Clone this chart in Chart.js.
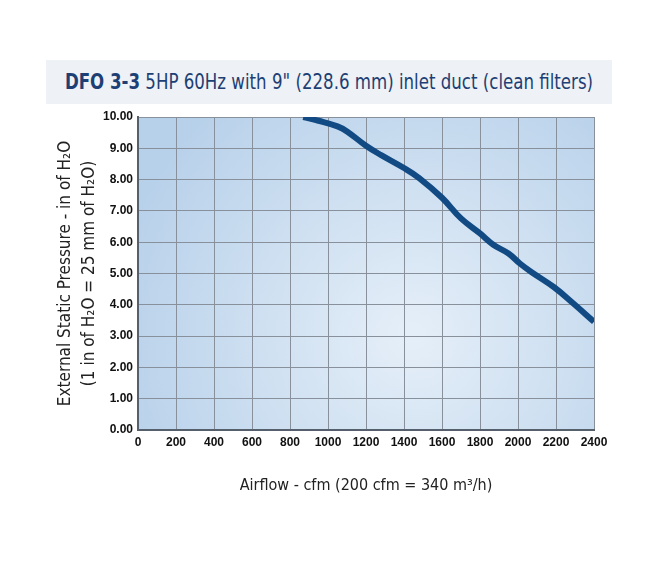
<!DOCTYPE html>
<html>
<head>
<meta charset="utf-8">
<script src="https://cdn.jsdelivr.net/npm/chart.js@4.4.1/dist/chart.umd.min.js"></script>
<style>
  html, body { margin: 0; padding: 0; background: #fff; }
  #wrap { position: relative; width: 650px; height: 562px; }
  #banner {
    position: absolute; left: 46px; top: 60px; width: 566px; height: 44px;
    background: #eef1f5; color: #1d3f74;
    font-family: "DejaVu Sans Condensed", "Roboto", sans-serif; font-size: 21px;
    line-height: 44px; white-space: nowrap;
  }
  #banner span {
    position: absolute; left: 50%; top: 0;
    transform: translateX(-50%) scaleX(0.88);
  }
  #banner b { font-weight: bold; }
  canvas { position: absolute; left: 0; top: 0; }
</style>
</head>
<body>
<div id="wrap">
  <div id="banner"><span><b>DFO 3-3</b> 5HP 60Hz with 9" (228.6 mm) inlet duct (clean filters)</span></div>
  <canvas id="grafico" width="650" height="562"></canvas>
</div>
<script>
// dados
const airflow = [870, 950, 1050, 1100, 1200, 1280, 1400, 1480, 1600, 1700, 1800, 1870, 1950, 2010, 2070, 2190, 2290, 2400];
const pressure = [10.0, 9.88, 9.70, 9.54, 9.08, 8.78, 8.37, 8.05, 7.42, 6.76, 6.28, 5.92, 5.64, 5.32, 5.05, 4.56, 4.05, 3.46];
const yTitle = ["External Static Pressure - in of H\u2082O", "(1 in of H\u2082O = 25 mm of H\u2082O)"];
const xTitle = "Airflow - cfm (200 cfm = 340 m\u00b3/h)";

// fundo em degradê da área do gráfico
const fundo = {
  id: "fundo",
  beforeDraw(chart) {
    const { ctx, chartArea: a } = chart;
    const g = ctx.createRadialGradient(
      a.left + a.width * 0.6, a.top + a.height * 0.7, 10,
      a.left + a.width * 0.6, a.top + a.height * 0.7, a.width * 0.66);
    g.addColorStop(0, "#e4eef8");
    g.addColorStop(1, "#b8d1ea");
    ctx.save();
    ctx.fillStyle = g;
    ctx.fillRect(a.left, a.top, a.width, a.height);
    ctx.restore();
  }
};

new Chart(document.getElementById("grafico"), {
  type: "line",
  data: {
    datasets: [{
      data: airflow.map((x, i) => ({ x, y: pressure[i] })),
      borderColor: "#124a84",
      borderWidth: 6,
      pointRadius: 0,
      tension: 0.4,
      fill: false
    }]
  },
  options: {
    responsive: false,
    animation: false,
    layout: { padding: { left: 53, top: 117, right: 56, bottom: 63 } },
    plugins: { legend: false, tooltip: { enabled: false } },
    scales: {
      x: {
        type: "linear",
        min: 0, max: 2400,
        afterFit(s) { s.height = 69; },
        ticks: {
          stepSize: 200, color: "#111", padding: 5,
          callback: v => String(v),
          font: { family: "Liberation Sans", size: 12, weight: "bold" }
        },
        grid: { color: "#87909b", lineWidth: 1, drawTicks: false },
        border: { color: "#55606c", width: 2 },
        title: {
          display: true, text: xTitle, color: "#222",
          font: { family: "DejaVu Sans Condensed", size: 16 },
          padding: { top: 14 }
        }
      },
      y: {
        min: 0, max: 10,
        afterFit(s) { s.width = 85; },
        ticks: {
          stepSize: 1, color: "#111", padding: 5,
          callback: v => v.toFixed(2),
          font: { family: "Liberation Sans", size: 12, weight: "bold" }
        },
        grid: { color: "#87909b", lineWidth: 1, drawTicks: false },
        border: { color: "#55606c", width: 2 },
        title: {
          display: true, text: yTitle, color: "#222",
          font: { family: "DejaVu Sans Condensed", size: 17, lineHeight: 1.45 },
          padding: { top: 0, bottom: 4 }
        }
      }
    }
  },
  plugins: [fundo]
});
</script>
</body>
</html>
